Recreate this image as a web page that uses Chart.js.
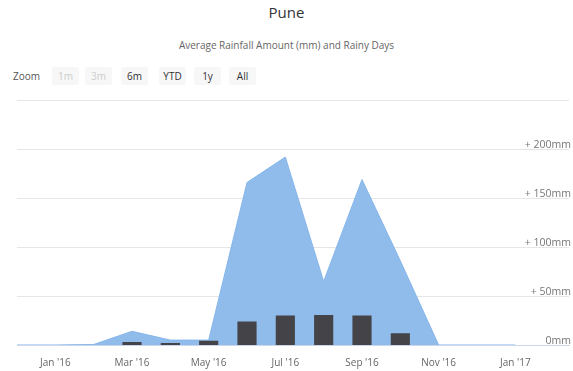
<!DOCTYPE html>
<html>
<head>
<meta charset="utf-8">
<script src="https://cdn.jsdelivr.net/npm/chart.js@4"></script>
<style>
  body { margin: 0; background: #fff; font-family: "Open Sans", "DejaVu Sans", sans-serif; }
  #wrap { position: relative; width: 573px; height: 371px; overflow: hidden; }
  #title { position: absolute; top: 2px; left: 0; width: 573px; text-align: center; font-size: 15px; color: #333; }
  #subtitle { position: absolute; top: 38px; left: 0; width: 573px; text-align: center; font-size: 10px; color: #666; }
  #zoom { position: absolute; top: 67px; left: 13px; height: 18px; font-size: 10px; color: #555; }
  #zoom span { position: absolute; top: 0; line-height: 18px; }
  #zoom .btn { width: 27px; text-align: center; background: #f7f7f7; color: #333; border-radius: 2px; }
  #zoom .off { color: #ccc; }
  #box { position: absolute; left: 0; top: 92px; width: 573px; height: 290px; }
</style>
</head>
<body>
<div id="wrap">
  <div id="title">Pune</div>
  <div id="subtitle">Average Rainfall Amount (mm) and Rainy Days</div>
  <div id="zoom">
    <span style="left:0">Zoom</span>
    <span class="btn off" style="left:39px">1m</span>
    <span class="btn off" style="left:72px">3m</span>
    <span class="btn" style="left:108px">6m</span>
    <span class="btn" style="left:146px">YTD</span>
    <span class="btn" style="left:181px">1y</span>
    <span class="btn" style="left:216px">All</span>
  </div>
  <div id="box"><canvas id="rainChart"></canvas></div>
</div>
<script>
// months from Dec '15 to Jan '17
const months = ["Dec '15", "Jan '16", "Feb '16", "Mar '16", "Apr '16", "May '16", "Jun '16",
                "Jul '16", "Aug '16", "Sep '16", "Oct '16", "Nov '16", "Dec '16", "Jan '17"];
const rainfall = [0, 0, 0.5, 14, 5, 5, 166, 192, 65, 169, 86, 0, 0, 0];      // mm
const rainyDays = [0, 0, 0, 1, 0.7, 1.4, 8, 10, 10.2, 10, 4, 0, 0, 0];       // days
const labelMonths = [1, 3, 5, 7, 9, 11, 13];
const mmTicks = [0, 50, 100, 150, 200, 250];

const toPoints = arr => arr.map((v, i) => ({ x: i, y: v }));

new Chart(document.getElementById('rainChart'), {
    type: 'line',
    data: {
        datasets: [{
            type: 'bar',
            label: 'Rainy days',
            data: toPoints(rainyDays),
            yAxisID: 'yDays',
            backgroundColor: '#434348',
            borderWidth: 0,
            categoryPercentage: 1,
            barPercentage: 0.5,
            order: 0
        }, {
            label: 'Rainfall',
            data: toPoints(rainfall),
            yAxisID: 'y',
            fill: 'origin',
            backgroundColor: '#90bcec',
            borderColor: '#86b6ea',
            borderWidth: 1,
            pointRadius: 0,
            tension: 0,
            order: 1
        }]
    },
    options: {
        responsive: true,
        maintainAspectRatio: false,
        animation: false,
        layout: { padding: { left: 17, right: 0, top: 6, bottom: 1 } },
        plugins: {
            legend: { display: false },
            tooltip: { enabled: false }
        },
        scales: {
            x: {
                type: 'linear',
                min: 0,
                max: 14.4,
                offset: false,
                grid: { display: false, drawTicks: false },
                border: { display: true, color: '#ccd6eb' },
                afterBuildTicks: axis => { axis.ticks = labelMonths.map(v => ({ value: v })); },
                ticks: {
                    autoSkip: false,
                    maxRotation: 0,
                    padding: 12,
                    color: '#666',
                    font: { size: 10, family: '"Open Sans", sans-serif' },
                    callback: v => months[v]
                }
            },
            y: {
                position: 'right',
                min: 0,
                max: 250,
                grid: { color: '#e6e6e6', drawTicks: false },
                border: { display: false },
                afterBuildTicks: axis => { axis.ticks = mmTicks.map(v => ({ value: v })); },
                ticks: {
                    mirror: true,
                    padding: 2,
                    labelOffset: -4,
                    color: '#777',
                    font: { size: 10.5, family: '"Open Sans", sans-serif' },
                    callback: v => v === 250 ? '' : (v === 0 ? '0mm' : '+ ' + v + 'mm')
                }
            },
            yDays: {
                display: false,
                min: 0,
                max: 83
            }
        }
    }
});
</script>
</body>
</html>
